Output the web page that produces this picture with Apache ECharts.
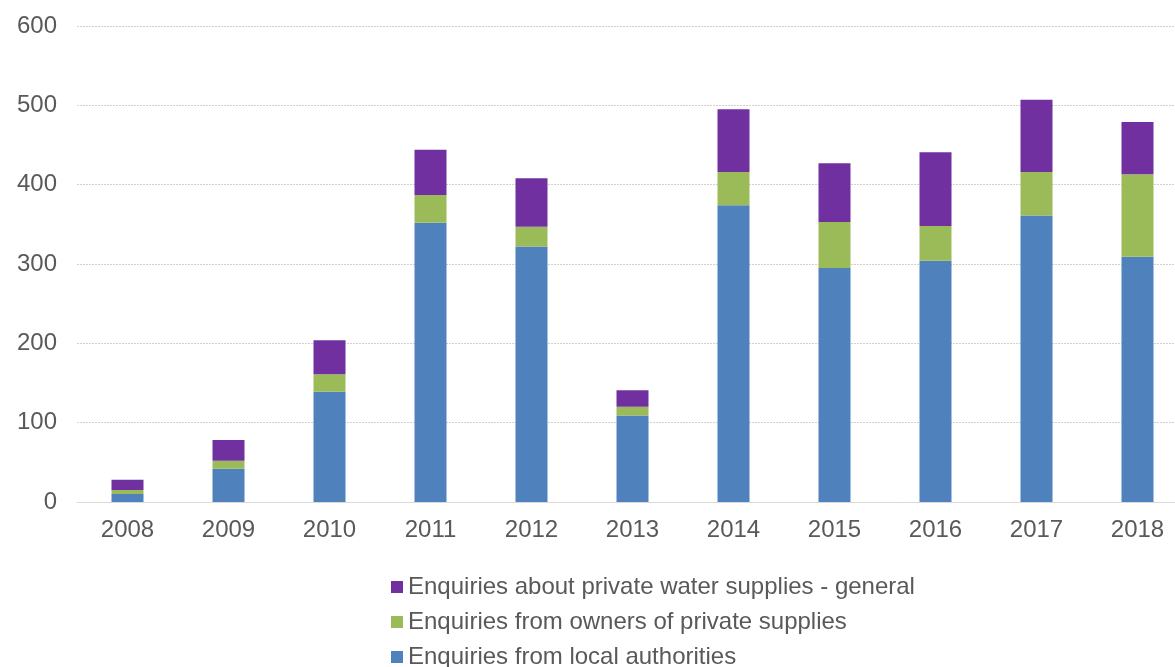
<!DOCTYPE html>
<html>
<head>
<meta charset="utf-8">
<script src="https://cdn.jsdelivr.net/npm/echarts@6/dist/echarts.min.js"></script>
<style>
  html, body { margin: 0; padding: 0; background: #fff; }
  #main { width: 1175px; height: 667px; }
</style>
</head>
<body>
<div id="main"></div>
<script>
// years on the x axis
var years = ['2008', '2009', '2010', '2011', '2012', '2013', '2014', '2015', '2016', '2017', '2018'];
// stacked pieces, bottom to top
var localAuthorities = [10, 42, 139, 352, 322, 109, 374, 295, 304, 361, 309];
var owners = [5, 10, 22, 35, 25, 11, 42, 58, 44, 55, 104];
var general = [13, 26, 43, 57, 61, 21, 79, 74, 93, 91, 66];

var names = [
  'Enquiries from local authorities',
  'Enquiries from owners of private supplies',
  'Enquiries about private water supplies - general'
];

var chart = echarts.init(document.getElementById('main'));
var font = 'Liberation Sans, Arial, sans-serif';

var option = {
  animation: false,
  textStyle: { fontFamily: font },
  // plot runs past the right edge, as in the cropped original
  grid: { left: 77, width: 1111, top: 26, height: 476, outerBoundsMode: 'none' },
  legend: {
    orient: 'vertical',
    left: 386,
    top: 570,
    height: 130,
    itemWidth: 12,
    itemHeight: 12,
    itemGap: 11,
    icon: 'rect',
    data: [names[2], names[1], names[0]],
    textStyle: { fontSize: 24, color: '#595959', fontFamily: font }
  },
  xAxis: {
    type: 'category',
    data: years,
    axisLine: { lineStyle: { color: '#d9d9d9', width: 1 } },
    axisTick: { show: false },
    axisLabel: { fontSize: 24, color: '#595959', margin: 16 }
  },
  yAxis: {
    type: 'value',
    min: 0,
    max: 600,
    interval: 100,
    axisLine: { show: false },
    axisTick: { show: false },
    axisLabel: { fontSize: 24, color: '#595959', margin: 20 },
    splitLine: { lineStyle: { color: '#d0d0d0', type: [2, 1], width: 1 } }
  },
  series: [
    {
      name: names[0], type: 'bar', stack: 'all', barWidth: 32,
      itemStyle: { color: '#4f81bd' },
      data: localAuthorities
    },
    {
      name: names[1], type: 'bar', stack: 'all', barWidth: 32,
      itemStyle: { color: '#9bbb59' },
      data: owners
    },
    {
      name: names[2], type: 'bar', stack: 'all', barWidth: 32,
      itemStyle: { color: '#7030a0' },
      data: general
    }
  ]
};

chart.setOption(option);
</script>
</body>
</html>
